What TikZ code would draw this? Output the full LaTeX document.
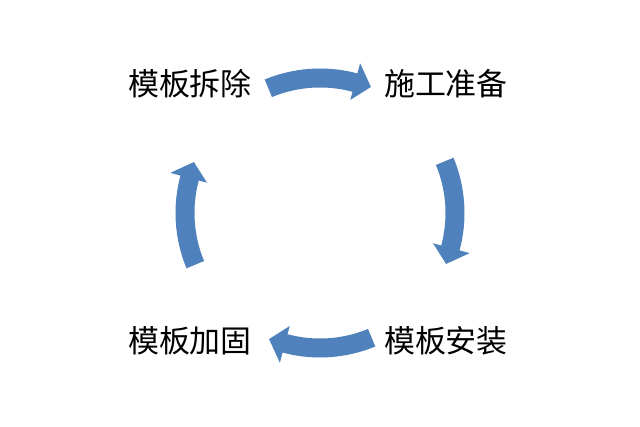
\documentclass[tikz,border=0pt]{standalone}
\usepackage{fontspec}
\newfontfamily\cjkfont{Noto Sans CJK SC}
\usetikzlibrary{positioning}
\definecolor{cblue}{HTML}{4F81BD}
\tikzset{
  every picture/.style={x=0.025cm, y=0.025cm},
  phase/.style={font=\cjkfont\fontsize{22}{22}\selectfont, inner sep=0pt},
  ringarrow/.style={fill=cblue, draw=none},
}
\begin{document}
\begin{tikzpicture}
  \useasboundingbox (-320,-214) rectangle (320,213);
  \node[phase] (remove) at (-130,129) {模板拆除};
  \node[phase] (prep) at (126,129) {施工准备};
  \node[phase] (install) at (126,-128) {模板安装};
  \node[phase] (fix) at (-130,-128) {模板加固};
  % four curved arrows on one ring, clockwise
  \foreach \c in {90,0,-90,180}
    \fill[ringarrow] ({\c+22.5}:144.5) arc[start angle=\c+22.5, end angle=\c-15, radius=144.5]
      -- ({\c-15}:155) -- ({\c-22}:136) -- ({\c-15}:117) -- ({\c-15}:125.5)
      arc[start angle=\c-15, end angle=\c+22.5, radius=125.5] -- cycle;
\end{tikzpicture}
\end{document}
